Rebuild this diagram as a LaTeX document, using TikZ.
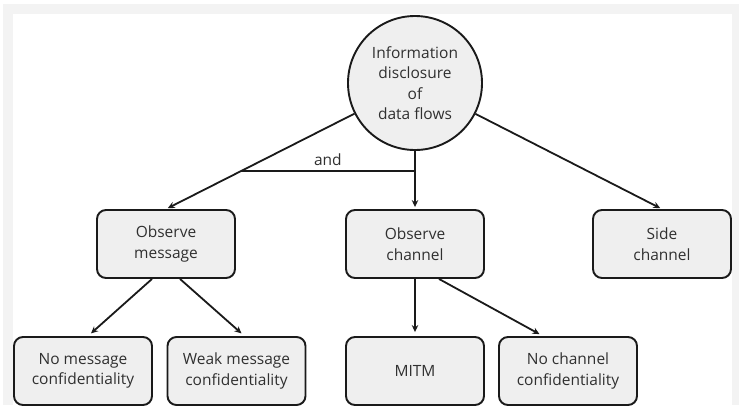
\documentclass[tikz,border=0pt]{standalone}
\usepackage{fontspec}
\setmainfont{Open Sans}
\usetikzlibrary{arrows.meta,calc}

\definecolor{boxfill}{HTML}{EFEFEF}
\definecolor{boxline}{HTML}{1A1A1A}
\definecolor{boxtext}{HTML}{303030}
\definecolor{framegray}{HTML}{F3F3F3}

\begin{document}
\begin{tikzpicture}[x=1pt,y=-1pt,
  goalbox/.style={draw=boxline,fill=boxfill,line width=1.9pt,rounded corners=9pt,
    minimum width=138pt,minimum height=68pt,align=center,text=boxtext,
    font=\fontsize{15.5}{20.5}\selectfont,inner sep=2pt},
  goalcircle/.style={circle,draw=boxline,fill=boxfill,line width=1.9pt,
    minimum size=134pt,align=center,text=boxtext,
    font=\fontsize{15.5}{20.5}\selectfont,inner sep=0pt},
  link/.style={-{Stealth[length=7pt,width=6.5pt]},line width=1.8pt,draw=boxline,
    shorten >=2pt}]
  % frame
  \useasboundingbox (0,0) rectangle (739,405);
  \fill[framegray] (3,4) rectangle (739,405);
  \fill[white] (13,14) rectangle (732,405);
  % goal and first level
  \node[goalcircle] (disclosure) at (415,83) {Information\\disclosure\\of\\data flows};
  \node[goalbox] (obsmsg) at (166,244) {Observe\\message};
  \node[goalbox] (obschan) at (415,244) {Observe\\channel};
  \node[goalbox] (sidechan) at (662,244) {Side\\channel};
  % second level
  \node[goalbox] (nomsg) at (83,371) {No message\\confidentiality};
  \node[goalbox] (weakmsg) at (236.5,371) {Weak message\\confidentiality};
  \node[goalbox] (mitm) at (415,371) {MITM};
  \node[goalbox] (nochan) at (568,371) {No channel\\confidentiality};
  % links from the goal
  \draw[link] (disclosure) -- (obsmsg.north);
  \draw[link] (disclosure) -- (obschan);
  \draw[link] (disclosure) -- (sidechan.north);
  \coordinate (andL) at ($(disclosure)!0.7!(obsmsg.north)$);
  \draw[line width=1.8pt,draw=boxline] (andL) -- (andL -| obschan)
    node[midway,above=1pt,text=boxtext,font=\fontsize{15.5}{18}\selectfont] {and};
  % links to the leaves
  \draw[link,shorten >=4pt] ([xshift=-14pt]obsmsg.south) -- ([xshift=5pt]nomsg.north);
  \draw[link,shorten >=4pt] ([xshift=14pt]obsmsg.south) -- ([xshift=8pt]weakmsg.north);
  \draw[link,shorten >=4pt] (obschan) -- (mitm);
  \draw[link,shorten >=4pt] ([xshift=24pt]obschan.south) -- ([xshift=-25pt]nochan.north);
\end{tikzpicture}
\end{document}
